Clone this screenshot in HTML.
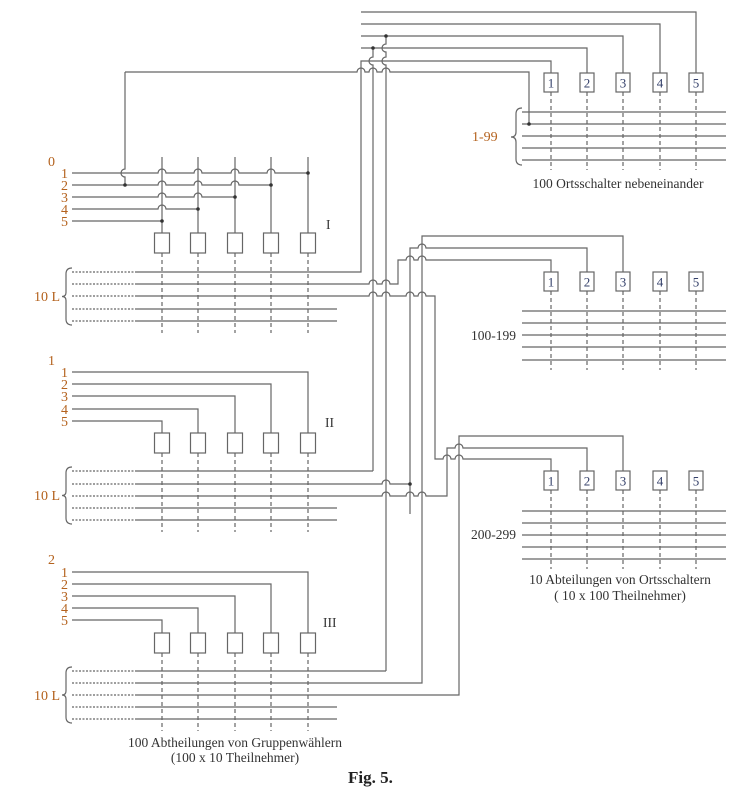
<!DOCTYPE html>
<html><head><meta charset="utf-8"><style>
html,body{margin:0;padding:0;background:#fff;}
svg{display:block;}
text{font-family:"Liberation Serif",serif;}
.l{fill:#b4621e;font-size:14px;}
.b{fill:#34406a;font-size:13px;}
.c{fill:#333;font-size:13.5px;}
</style></head><body>
<svg id="s" width="754" height="792" viewBox="0 0 754 792" xmlns="http://www.w3.org/2000/svg">
<g id="w" fill="none" stroke="#666" stroke-width="1.2"></g>
<g id="d" fill="#333"></g>
<text class="l" x="48" y="166">0</text>
<text class="l" x="61" y="178">1</text><text class="l" x="61" y="190">2</text><text class="l" x="61" y="202">3</text><text class="l" x="61" y="214">4</text><text class="l" x="61" y="226">5</text>
<text class="c" x="326" y="229" font-size="14">I</text>
<text class="l" x="48" y="365">1</text>
<text class="l" x="61" y="377">1</text><text class="l" x="61" y="389">2</text><text class="l" x="61" y="401">3</text><text class="l" x="61" y="414">4</text><text class="l" x="61" y="426">5</text>
<text class="c" x="325" y="427" font-size="14">II</text>
<text class="l" x="48" y="564">2</text>
<text class="l" x="61" y="577">1</text><text class="l" x="61" y="589">2</text><text class="l" x="61" y="601">3</text><text class="l" x="61" y="613">4</text><text class="l" x="61" y="625">5</text>
<text class="c" x="323" y="627" font-size="14">III</text>
<text class="l" x="34" y="301">10 L</text>
<text class="l" x="34" y="500">10 L</text>
<text class="l" x="34" y="700">10 L</text>
<text class="l" x="472" y="141">1-99</text>
<text class="c" x="516" y="340" text-anchor="end">100-199</text>
<text class="c" x="516" y="539" text-anchor="end">200-299</text>
<text class="c" x="618" y="188" text-anchor="middle">100 Ortsschalter nebeneinander</text>
<text class="c" x="620" y="584" text-anchor="middle">10 Abteilungen von Ortsschaltern</text>
<text class="c" x="620" y="600" text-anchor="middle">( 10 x 100 Theilnehmer)</text>
<text class="c" x="235" y="747" text-anchor="middle">100 Abtheilungen von Gruppenwählern</text>
<text class="c" x="235" y="762" text-anchor="middle">(100 x 10 Theilnehmer)</text>
<text x="348" y="783" font-size="17" font-weight="bold" fill="#222">Fig.  5.</text>
<g id="bx"></g>
</svg>
<script>
var W=document.getElementById('w'),D=document.getElementById('d'),BX=document.getElementById('bx');
function P(d,extra){var p=document.createElementNS('http://www.w3.org/2000/svg','path');p.setAttribute('d',d);if(extra)for(var k in extra)p.setAttribute(k,extra[k]);W.appendChild(p);}
function dot(x,y){var c=document.createElementNS('http://www.w3.org/2000/svg','circle');c.setAttribute('cx',x);c.setAttribute('cy',y);c.setAttribute('r',1.8);D.appendChild(c);}
function H(y,x1,x2,h){h=(h||[]).slice().sort(function(a,b){return a-b});var d='M'+x1+' '+y;h.forEach(function(x){d+=' L'+(x-4)+' '+y+' A4 4 0 0 1 '+(x+4)+' '+y;});return d+' L'+x2+' '+y;}
function V(x,y1,y2,h){h=(h||[]).slice().sort(function(a,b){return a-b});var d='M'+x+' '+y1;h.forEach(function(y){d+=' L'+x+' '+(y-4)+' A4 4 0 0 0 '+x+' '+(y+4);});return d+' L'+x+' '+y2;}
function box(cx,y,w,h,t){var r=document.createElementNS('http://www.w3.org/2000/svg','rect');r.setAttribute('x',cx-w/2);r.setAttribute('y',y);r.setAttribute('width',w);r.setAttribute('height',h);r.setAttribute('fill','#fff');r.setAttribute('stroke','#666');r.setAttribute('stroke-width','1.2');BX.appendChild(r);
 if(t){var tx=document.createElementNS('http://www.w3.org/2000/svg','text');tx.setAttribute('x',cx);tx.setAttribute('y',y+h/2+5);tx.setAttribute('text-anchor','middle');tx.setAttribute('class','b');tx.textContent=t;BX.appendChild(tx);}}
var C=[162,198,235,271,308];
var S=[{ly:[173,185,197,209,221],by:233,bus:[272,284,296,309,321]},
       {ly:[372,384,396,409,421],by:433,bus:[471,484,496,508,520]},
       {ly:[572,584,596,608,620],by:633,bus:[671,683,695,707,719]}];
S.forEach(function(s,i){
  for(var k=0;k<5;k++){
    var tx=C[4-k];
    if(i==0){var hs=[];for(var j=0;j<4-k;j++)hs.push(C[j]);P(H(s.ly[k],72,tx,hs));dot(tx,s.ly[k]);}
    else P(H(s.ly[k],72,tx)+' L'+tx+' '+s.by);
  }
  if(i==0)C.forEach(function(x){P('M'+x+' 157 L'+x+' 233');});
  C.forEach(function(x){box(x,s.by,15,20);P('M'+x+' '+(s.by+20)+' L'+x+' '+(s.bus[4]+12),{'stroke-dasharray':'4 3'});});
  s.bus.forEach(function(y,k){P('M72 '+y+' L135 '+y,{'stroke-dasharray':'2 1.5'});if(k>=3)P('M135 '+y+' L337 '+y);});
  var b0=s.bus[0]-4,b1=s.bus[4]+4,m=(b0+b1)/2;
  P('M72 '+b0+' Q66 '+b0+' 66 '+(b0+6)+' L66 '+(m-4)+' Q66 '+m+' 62 '+m+' Q66 '+m+' 66 '+(m+4)+' L66 '+(b1-6)+' Q66 '+b1+' 72 '+b1);
});
P(V(125,72,185,[173]));dot(125,185);
P(H(72,125,529,[361,373,386])+' L529 124');dot(529,124);
P('M361 12 L696 12 L696 73');P('M361 24 L660 24 L660 73');
P('M361 36 L623 36 L623 73');P('M361 48 L587 48 L587 73');
P('M135 272 L361 272 L361 61 L551 61 L551 73');
P(H(284,135,398,[373,386])+' L398 260 '+H(260,398,551,[410,422]).replace('M','L')+' L551 272');
P(H(296,135,435,[373,386,410,422])+' L435 459 '+H(459,435,551,[447,459]).replace('M','L')+' L551 471');
P('M135 471 L373 471');dot(373,48);
P(V(373,48,471,[61]));
P(H(484,135,410,[386]));dot(410,484);
P('M410 514 L410 248 '+H(248,410,587,[422]).replace('M','L')+' L587 272');
P(H(496,135,447,[386,410,422])+' L447 448 '+H(448,447,587,[459]).replace('M','L')+' L587 471');
P(V(386,36,671,[48,61]));
P('M135 671 L386 671');dot(386,36);
P('M135 683 L422 683 L422 236 L623 236 L623 272');
P('M135 695 L459 695 L459 436 L623 436 L623 471');
var G=[{by:73,bus:[112,124,136,148,160]},{by:272,bus:[311,323,335,347,360]},{by:471,bus:[511,523,535,547,559]}];
var RC=[551,587,623,660,696];
G.forEach(function(g){
  RC.forEach(function(x,k){box(x,g.by,14,19,String(k+1));P('M'+x+' '+(g.by+19)+' L'+x+' '+(g.bus[4]+10),{'stroke-dasharray':'4 3'});});
  g.bus.forEach(function(y){P('M522 '+y+' L726 '+y);});
});
P('M522 108 Q516 108 516 114 L516 132 Q516 137 511 137 Q516 137 516 142 L516 159 Q516 165 522 165');
</script>
</body></html>
